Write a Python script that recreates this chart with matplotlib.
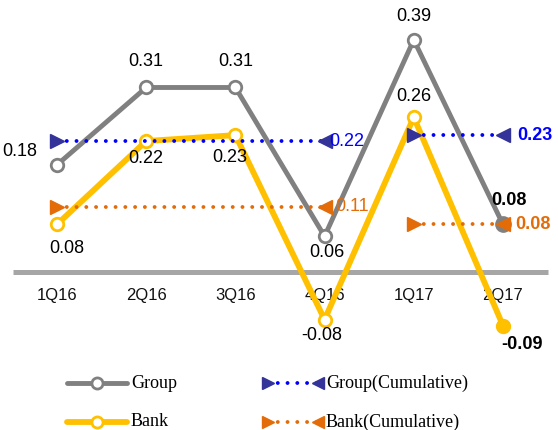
import matplotlib
matplotlib.use("Agg")
from matplotlib import pyplot as plt
from matplotlib.lines import Line2D

plt.rcParams['font.family'] = ['Liberation Sans', 'DejaVu Sans']

quarters = ['1Q16', '2Q16', '3Q16', '4Q16', '1Q17', '2Q17']
group = [0.18, 0.31, 0.31, 0.06, 0.39, 0.08]
bank = [0.08, 0.22, 0.23, -0.08, 0.26, -0.09]
# cumulative values per year: (first quarter index, last quarter index, value)
group_cum = [(0, 3, 0.22), (4, 5, 0.23)]
bank_cum = [(0, 3, 0.11), (4, 5, 0.08)]

GRAY = '#808080'
YELLOW = '#ffc000'
BLUE = '#0000ff'
NAVY = '#333399'
ORANGE = '#e36c09'

fig = plt.figure(figsize=(5.58, 4.30), dpi=100)
ax = fig.add_axes([0, 0, 1, 1])
ax.set_xlim(-0.639, 5.617)
ax.set_ylim(-0.2655, 0.457)
ax.axis('off')

x = list(range(len(quarters)))

# zero line
ax.plot([-0.493, 5.505], [0, 0], color='#a6a6a6', lw=3.6, solid_capstyle='butt', zorder=1)

# quarter labels
for i, q in enumerate(quarters):
    ax.text(i, -0.039, q, ha='center', va='center', fontsize=12, color='#111111', zorder=2)

# quarterly lines
ax.plot(x, bank, color=YELLOW, lw=4.2, zorder=3)
ax.plot(x[:-1], bank[:-1], 'o', ms=9, mfc='white', mec=YELLOW, mew=2, zorder=3)
ax.plot(x[-1], bank[-1], 'o', ms=10, color=YELLOW, zorder=3)

ax.plot(x, group, color=GRAY, lw=3.5, zorder=4)
ax.plot(x[:-1], group[:-1], 'o', ms=9, mfc='white', mec=GRAY, mew=2, zorder=4)
ax.plot(x[-1], group[-1], 'o', ms=11, color=GRAY, zorder=4)

# cumulative lines with triangle ends
def cum_line(segs, line_color, tri_color):
    for a, b, v in segs:
        ax.plot([a, b], [v, v], color=line_color, lw=2.8,
                linestyle=(0, (0.01, 2.5)), dash_capstyle='round', zorder=5)
        ax.plot(a, v, '>', ms=10, color=tri_color, zorder=6)
        ax.plot(b, v, '<', ms=10, color=tri_color, zorder=6)

cum_line(group_cum, BLUE, NAVY)
cum_line(bank_cum, ORANGE, ORANGE)

def label(xv, yv, txt, dx, dy, color='black', weight='normal', ha='center'):
    ax.annotate(txt, (xv, yv), xytext=(dx, dy), textcoords='offset pixels',
                ha=ha, va='center', fontsize=13, color=color, fontweight=weight, zorder=7)

# group labels
g_off = [(-37, 13), (0, 26), (0, 26), (2, -16), (0, 23), (6, 24)]
for i, (v, (dx, dy)) in enumerate(zip(group, g_off)):
    label(i, v, '%.2f' % v, dx, dy, weight='bold' if i == len(group) - 1 else 'normal')

# bank labels
b_off = [(10, -24), (0, -17), (-6, -22), (-3, -16), (0, 21), (19, -19)]
for i, (v, (dx, dy)) in enumerate(zip(bank, b_off)):
    label(i, v, '%.2f' % v, dx, dy, weight='bold' if i == len(bank) - 1 else 'normal')

# cumulative labels
label(3, 0.22, '0.22', 5, 0, color=BLUE, ha='left')
label(5, 0.23, '0.23', 14, 0, color=BLUE, weight='bold', ha='left')
label(3, 0.11, '0.11', 11, 0, color=ORANGE, ha='left')
label(5, 0.08, '0.08', 12, 0, color=ORANGE, weight='bold', ha='left')

# legend
W, H = 558.0, 430.0
def fx(px):
    return px / W
def fy(py):
    return 1 - py / H

leg_font = dict(family='Liberation Serif', fontsize=13, va='center', ha='left')
for py, name, col, lw in [(383, 'Group', GRAY, 3.5), (422, 'Bank', YELLOW, 4.2)]:
    fig.add_artist(Line2D([fx(67), fx(127)], [fy(py), fy(py)], color=col, lw=lw,
                          solid_capstyle='round'))
    fig.add_artist(Line2D([fx(97)], [fy(py)], marker='o', ms=8, mfc='white', mec=col, mew=2))
    fig.text(fx(131), fy(py), name, **leg_font)

for py, name, lc, tc in [(383, 'Group(Cumulative)', BLUE, NAVY),
                         (422, 'Bank(Cumulative)', ORANGE, ORANGE)]:
    fig.add_artist(Line2D([fx(268), fx(318)], [fy(py), fy(py)], color=lc, lw=2.8,
                          linestyle=(0, (0.01, 2.5)), dash_capstyle='round'))
    fig.add_artist(Line2D([fx(268)], [fy(py)], marker='>', ms=9, color=tc))
    fig.add_artist(Line2D([fx(318)], [fy(py)], marker='<', ms=9, color=tc))
    fig.text(fx(326), fy(py), name, **leg_font)

fig.savefig('out.png', dpi=100)
